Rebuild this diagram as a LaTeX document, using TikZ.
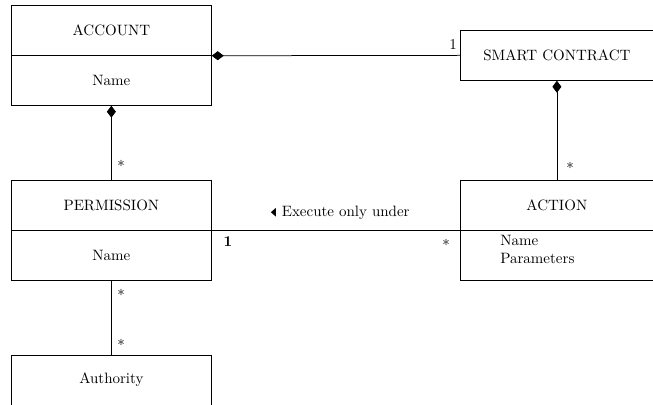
\documentclass[tikz,border=0pt]{standalone}
\usepackage{amssymb}
\usepackage{graphicx}
\usetikzlibrary{arrows.meta}
\begin{document}
\begin{tikzpicture}[x=0.666667pt,y=-0.666667pt,
 box/.style={draw,line width=0.5pt,inner sep=0pt,anchor=north west,minimum width=133.333pt,minimum height=33.333pt},
 wbox/.style={box,minimum width=128.667pt},
 conn/.style={draw,line width=0.5pt},
 comp/.style={{Diamond[length=8pt,width=6pt]}-},
 lbl/.style={inner sep=0pt}]
\useasboundingbox (0,0) rectangle (653,405);
\node[box] (accT) at (11,5) {ACCOUNT};
\node[box] (accB) at (11,55) {Name};
\node[wbox] (sc) at (460,30) {SMART CONTRACT};
\node[box] (permT) at (11,180) {PERMISSION};
\node[box] (permB) at (11,230) {Name};
\node[wbox] (actT) at (460,180) {ACTION};
\node[wbox] (actB) at (460,230) {};
\node[anchor=west,align=left,inner sep=0pt] (actAttr) at (500,249) {Name\\Parameters};
\node[box,minimum height=33pt] (auth) at (11,355) {Authority};
\draw[conn,comp] (accT.south east) -- (sc.west);
\draw[conn,comp] (accB.south) -- (permT.north);
\draw[conn,comp] (sc.south) -- (actT.north);
\draw[conn] (permT.south east) -- (actT.south west);
\draw[conn] (permB.south) -- (auth.north);
\node[lbl] (m1) at (453,45) {1};
\node[lbl] (m2) at (121,166) {*};
\node[lbl] (m3) at (570,168) {*};
\node[lbl] (ex) at (340,213) {\scalebox{0.55}[1]{$\blacktriangleleft$} Execute only under};
\node[lbl] (m4) at (228,242) {\textbf{1}};
\node[lbl] (m5) at (446,245) {*};
\node[lbl] (m6) at (121,295) {*};
\node[lbl] (m7) at (121,345) {*};
\end{tikzpicture}
\end{document}
